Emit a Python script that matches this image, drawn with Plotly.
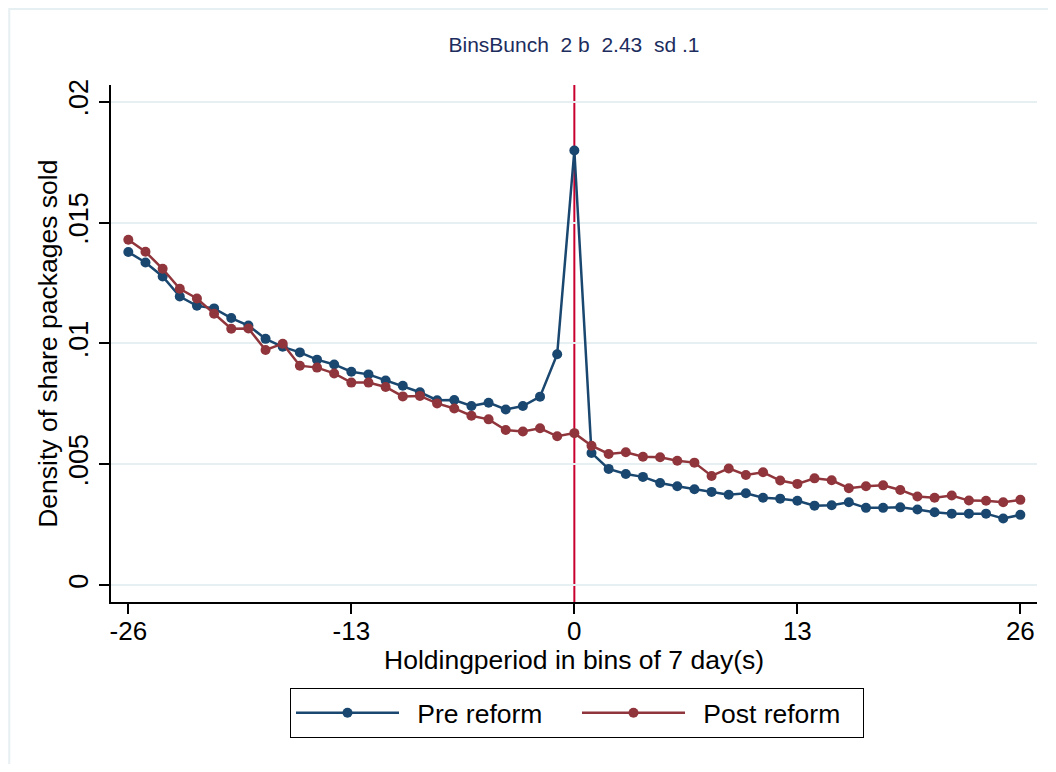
import plotly.graph_objects as go

# ---------------- data ----------------
bins = list(range(-26, 27))

pre_reform = [
    0.01378, 0.01335, 0.01277, 0.01194, 0.01156, 0.01145, 0.01105, 0.01074, 0.01019, 0.00986,
    0.00963, 0.00933, 0.00913, 0.00883, 0.00872, 0.00847, 0.00825, 0.00798, 0.00765, 0.00766,
    0.00741, 0.00755, 0.00727, 0.00741, 0.00780, 0.00955, 0.01798, 0.00547, 0.00481, 0.00460,
    0.00448, 0.00423, 0.00409, 0.00397, 0.00386, 0.00374, 0.00380, 0.00362, 0.00358, 0.00349,
    0.00329, 0.00331, 0.00343, 0.00320, 0.00320, 0.00322, 0.00313, 0.00302, 0.00296, 0.00296,
    0.00296, 0.00276, 0.00291,
]

post_reform = [
    0.01429, 0.01379, 0.01309, 0.01226, 0.01186, 0.01123, 0.01061, 0.01062, 0.00973, 0.00999,
    0.00908, 0.00900, 0.00876, 0.00838, 0.00838, 0.00820, 0.00781, 0.00783, 0.00752, 0.00731,
    0.00701, 0.00686, 0.00642, 0.00636, 0.00649, 0.00616, 0.00629, 0.00577, 0.00543, 0.00550,
    0.00531, 0.00529, 0.00515, 0.00507, 0.00452, 0.00483, 0.00456, 0.00467, 0.00433, 0.00419,
    0.00442, 0.00434, 0.00401, 0.00409, 0.00413, 0.00394, 0.00367, 0.00362, 0.00371, 0.00350,
    0.00349, 0.00343, 0.00353,
]

x_tick_vals = [-26, -13, 0, 13, 26]
x_tick_text = ["-26", "-13", "0", "13", "26"]
y_tick_vals = [0, 0.005, 0.01, 0.015, 0.02]
y_tick_text = ["0", ".005", ".01", ".015", ".02"]
reform_bin = 0

series_names = ["Pre reform", "Post reform"]
title_text = "BinsBunch\u00a0\u00a02\u00a0b\u00a0\u00a02.43\u00a0\u00a0sd\u00a0.1"
x_title = "Holdingperiod in bins of 7 day(s)"
y_title = "Density of share packages sold"

# ---------------- styles / layout ----------------
FONT = "Liberation Sans, Arial, sans-serif"
BLUE = "#1a476f"
RED = "#90353b"
VLINE = "#c8002e"
GRID = "#e6eff1"

# page offset from the default 8px body margin
OX, OY = 8, 8
W, H = 1040, 756
PL, PR, PT, PB = 110.7, 1036.7, 85.0, 602.3      # plot area in page px
ML = PL - OX
MT = PT - OY
MR = W - (PR - OX)
MB = H - (PB - OY)
PW = PR - PL
PH = PB - PT


def px_to_paper_x(px):
    return (px - PL) / PW


def px_to_paper_y(py):
    return (PB - py) / PH


fig = go.Figure()
fig.add_trace(go.Scatter(
    x=bins, y=pre_reform, mode="lines+markers", name="\u2002" + series_names[0],
    line=dict(color=BLUE, width=2.5), marker=dict(color=BLUE, size=10),
))
fig.add_trace(go.Scatter(
    x=bins, y=post_reform, mode="lines+markers", name="\u2002" + series_names[1],
    line=dict(color=RED, width=2.5), marker=dict(color=RED, size=10),
))

fig.add_shape(type="line", xref="x", yref="paper", x0=reform_bin, x1=reform_bin,
              y0=0, y1=1, line=dict(color=VLINE, width=2), layer="between")

# outer graph-region frame
fig.add_shape(type="rect", xref="paper", yref="paper",
              x0=px_to_paper_x(9), x1=px_to_paper_x(1080),
              y0=px_to_paper_y(800), y1=px_to_paper_y(9),
              line=dict(color=GRID, width=2), fillcolor="rgba(0,0,0,0)", layer="below")

# axis titles as annotations for exact placement
fig.add_annotation(text=y_title, xref="paper", yref="paper",
                   x=px_to_paper_x(47), y=0.5, xanchor="center", yanchor="middle",
                   textangle=-90, showarrow=False,
                   font=dict(family=FONT, size=26.5, color="black"))
fig.add_annotation(text=x_title, xref="paper", yref="paper",
                   x=0.5, y=px_to_paper_y(660), xanchor="center", yanchor="middle",
                   showarrow=False,
                   font=dict(family=FONT, size=26.5, color="black"))

fig.update_layout(
    width=W, height=H,
    margin=dict(l=ML, r=MR, t=MT, b=MB, autoexpand=False),
    paper_bgcolor="white", plot_bgcolor="white",
    font=dict(family=FONT, color="black", size=26),
    title=dict(text=title_text, x=0.5, xref="paper", xanchor="center",
               y=1 - (45 - OY) / H, yref="container", yanchor="middle",
               font=dict(family=FONT, size=21, color="#1c2d5e")),
    showlegend=True,
    legend=dict(orientation="h", x=(577 - OX) / W, xref="container", xanchor="center",
                y=1 - (688 - OY) / H, yref="container", yanchor="top",
                bordercolor="black", borderwidth=1, bgcolor="white",
                font=dict(family=FONT, size=26.5, color="black"),
                itemwidth=103, entrywidth=168, traceorder="normal"),
)

fig.update_xaxes(
    range=[-27.01, 26.97], tickvals=x_tick_vals, ticktext=x_tick_text,
    showgrid=False, zeroline=False, showline=True, linecolor="black", linewidth=1.5,
    ticks="outside", ticklen=10, tickwidth=1.5, tickcolor="black", ticklabelstandoff=-5,
    tickfont=dict(family=FONT, size=26, color="black"), automargin=False,
)
fig.update_yaxes(
    range=[-0.000695, 0.02069], tickvals=y_tick_vals, ticktext=y_tick_text,
    tickangle=-90, ticklabelstandoff=0,
    showgrid=True, gridcolor=GRID, gridwidth=2, zeroline=False,
    showline=True, linecolor="black", linewidth=1.5,
    ticks="outside", ticklen=10, tickwidth=1.5, tickcolor="black",
    tickfont=dict(family=FONT, size=27, color="black"), automargin=False,
)

fig.write_html("out.html")
